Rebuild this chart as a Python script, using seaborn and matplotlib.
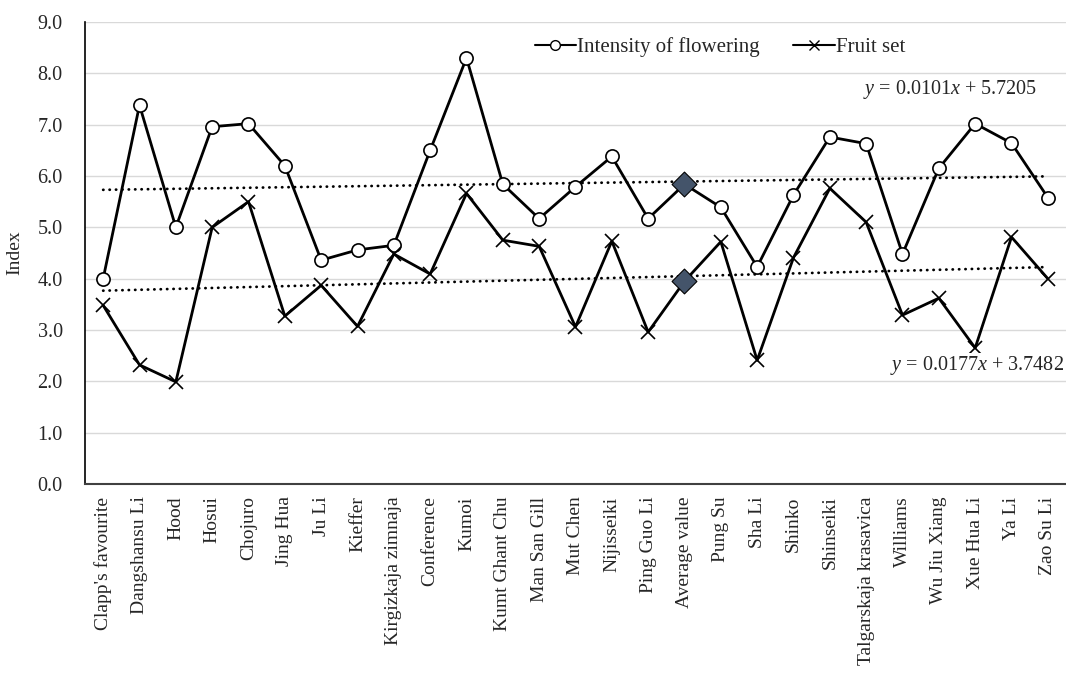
import numpy as np
import pandas as pd
import matplotlib
matplotlib.use("Agg")
import matplotlib.pyplot as plt
from matplotlib.lines import Line2D
import seaborn as sns

cultivars = ["Clapp's favourite", "Dangshansu Li", "Hood", "Hosui", "Chojuro",
             "Jing Hua", "Ju Li", "Kieffer", "Kirgizkaja zimnaja", "Conference",
             "Kumoi", "Kumt Ghant Chu", "Man San Gill", "Mut Chen", "Nijisseiki",
             "Ping Guo Li", "Average value", "Pung Su", "Sha Li", "Shinko",
             "Shinseiki", "Talgarskaja krasavica", "Williams", "Wu Jiu Xiang",
             "Xue Hua Li", "Ya Li", "Zao Su Li"]

flowering = [4.0, 7.38, 5.0, 6.96, 7.02, 6.2, 4.36, 4.56, 4.65, 6.5,
             8.3, 5.84, 5.17, 5.79, 6.38, 5.17, 5.84, 5.39, 4.23, 5.63,
             6.76, 6.63, 4.48, 6.15, 7.02, 6.64, 5.58]

fruit_set = [3.48, 2.32, 1.99, 5.0, 5.5, 3.27, 3.87, 3.07, 4.48, 4.09,
             5.66, 4.75, 4.63, 3.06, 4.73, 2.96, 3.95, 4.72, 2.41, 4.41,
             5.76, 5.1, 3.29, 3.62, 2.65, 4.81, 4.0]

# linear trend coefficients (slope, intercept), x counted from 1
trend_flowering = [0.0101, 5.7205]
trend_fruit = [0.0177, 3.7482]

y_ticks = [0, 1, 2, 3, 4, 5, 6, 7, 8, 9]

sns.set_theme(style="white")
plt.rcParams["font.family"] = ["Liberation Serif", "DejaVu Serif"]
plt.rcParams["mathtext.fontset"] = "custom"
plt.rcParams["mathtext.it"] = "Liberation Serif:italic"
plt.rcParams["mathtext.rm"] = "Liberation Serif"

df = pd.DataFrame({"pos": np.arange(len(cultivars)), "cultivar": cultivars,
                   "flowering": flowering, "fruit": fruit_set})
avg_idx = cultivars.index("Average value")
marks = [i for i in range(len(cultivars)) if i != avg_idx]

fig = plt.figure(figsize=(10.66, 6.73), dpi=100)
ax = fig.add_axes([85 / 1066, 1 - 484 / 673, 981 / 1066, 462 / 673])

sns.lineplot(data=df, x="pos", y="flowering", ax=ax, color="black", lw=2.0,
             marker="o", markersize=9.5, markerfacecolor="white",
             markeredgecolor="black", markeredgewidth=1.2, markevery=marks,
             zorder=4)
sns.lineplot(data=df, x="pos", y="fruit", ax=ax, color="black", lw=2.0,
             marker="x", markersize=9.5, markeredgecolor="black",
             markeredgewidth=1.2, markevery=marks, zorder=4)

# highlighted average points
avg_df = pd.DataFrame({"pos": [avg_idx, avg_idx],
                       "val": [flowering[avg_idx], fruit_set[avg_idx]]})
sns.scatterplot(data=avg_df, x="pos", y="val", ax=ax, marker="D", s=160,
                color="#44546A", edgecolor="black", linewidth=0.8, zorder=6)

# dotted linear trend lines
xs = np.arange(1, len(cultivars) + 1)
for slope, icpt in (trend_flowering, trend_fruit):
    ax.plot(xs - 1, slope * xs + icpt, color="black", lw=2.0,
            linestyle=(0, (0.1, 2.2)), dash_capstyle="round", zorder=3)

ax.text(25.7, 7.68, r"$y$ = 0.0101$x$ + 5.7205", fontsize=14.5, ha="right",
        va="center", zorder=7)
ax.text(26.45, 2.3, r"$y$ = 0.0177$x$ + 3.7482", fontsize=14.5, ha="right",
        va="center", zorder=7,
        bbox=dict(facecolor="white", edgecolor="none", pad=1))

ax.set_xlim(-0.5, len(cultivars) - 0.5)
ax.set_ylim(0, 9)
ax.set_yticks(y_ticks)
ax.set_yticklabels([f"{v:.1f}" for v in y_ticks], fontsize=14.5)
ax.set_xticks(df["pos"])
ax.set_xticklabels(cultivars, rotation=90, fontsize=14)
ax.tick_params(axis="x", length=0, pad=9)
ax.tick_params(axis="y", length=0, pad=16)
ax.set_xlabel("")
ax.set_ylabel("Index", fontsize=14, labelpad=10)

ax.grid(axis="y", color="#d9d9d9", lw=1.0)
ax.set_axisbelow(True)
for side in ("top", "right"):
    ax.spines[side].set_visible(False)
ax.spines["left"].set_color("black")
ax.spines["left"].set_linewidth(1.2)
ax.spines["bottom"].set_color("#404040")
ax.spines["bottom"].set_linewidth(1.5)

handles = [
    Line2D([], [], color="black", lw=1.5, marker="o", markersize=7,
           markerfacecolor="white", markeredgecolor="black"),
    Line2D([], [], color="black", lw=1.5, marker="x", markersize=7,
           markeredgecolor="black"),
]
leg = ax.legend(handles, ["Intensity of flowering", "Fruit set"], ncol=2,
                frameon=False, fontsize=15, handlelength=2.0,
                handletextpad=0.05, columnspacing=1.6,
                loc="center", bbox_to_anchor=((720 - 85) / 981, (484 - 47) / 462))

fig.savefig("out.png", dpi=100)
